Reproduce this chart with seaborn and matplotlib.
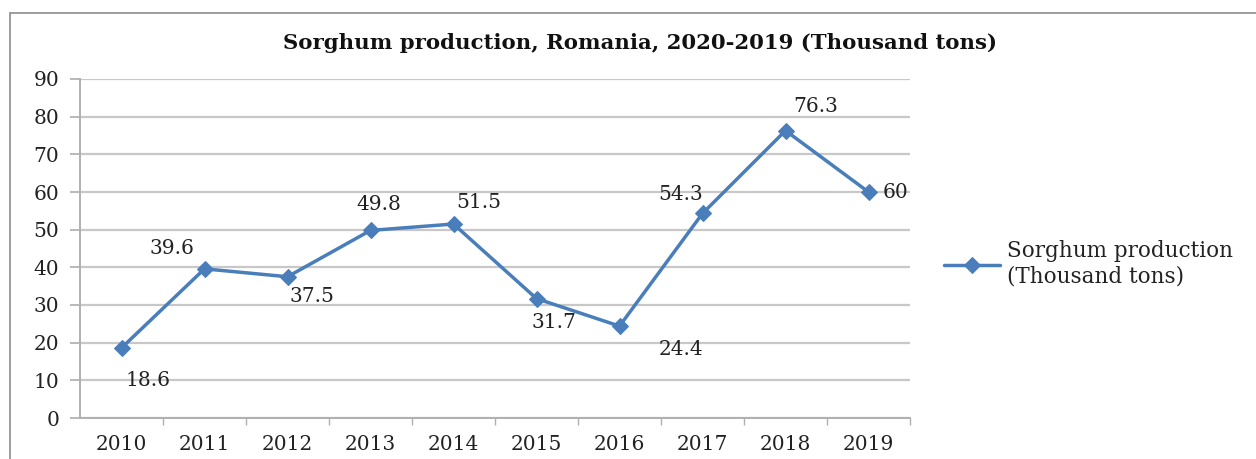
import matplotlib
matplotlib.use("Agg")
import matplotlib.pyplot as plt
import seaborn as sns
import pandas as pd
from matplotlib.patches import Rectangle

years = ["2010", "2011", "2012", "2013", "2014", "2015", "2016", "2017", "2018", "2019"]
production = [18.6, 39.6, 37.5, 49.8, 51.5, 31.7, 24.4, 54.3, 76.3, 60]
value_labels = ["18.6", "39.6", "37.5", "49.8", "51.5", "31.7", "24.4", "54.3", "76.3", "60"]
y_ticks = [0, 10, 20, 30, 40, 50, 60, 70, 80, 90]
title = "Sorghum production, Romania, 2020-2019 (Thousand tons)"
series_name = "Sorghum production\n(Thousand tons)"

sns.set_theme(style="white")
plt.rcParams['font.family'] = ['DejaVu Serif', 'Liberation Serif']

fig = plt.figure(figsize=(12.56, 4.59), dpi=100)
ax = fig.add_axes([80/1256, 1 - 418/459, 830/1256, 339/459])

# outer frame
fig.patches.append(Rectangle((10/1256, -0.05), 1.2, 1 - 13/459 + 0.05,
                             transform=fig.transFigure, fill=False,
                             edgecolor="#8c8c8c", linewidth=1.2))

df = pd.DataFrame({"year": years, "value": production, "pos": range(len(years))})
line_color = "#4A7EBB"
sns.lineplot(data=df, x="pos", y="value", ax=ax, color=line_color, linewidth=2.5,
             marker="D", markersize=8, markeredgecolor=line_color,
             label=series_name, legend=False)

tick_color = "#b0b0b0"
ax.set_xlim(-0.5, len(years) - 0.5)
ax.set_ylim(0, 90)
ax.set_yticks(y_ticks)
ax.set_yticklabels([str(t) for t in y_ticks], fontsize=14.5, color="#222222")
ax.set_xticks(range(len(years)))
ax.set_xticklabels(years, fontsize=14.5, color="#222222")
ax.set_xlabel("")
ax.set_ylabel("")
ax.yaxis.grid(True, color="#c8c8c8", linewidth=1.6)
ax.set_axisbelow(True)
for s in ["top", "right"]:
    ax.spines[s].set_visible(False)
for s in ["left", "bottom"]:
    ax.spines[s].set_color(tick_color)
    ax.spines[s].set_linewidth(1.4)
ax.tick_params(axis="y", which="both", left=True, length=7, color=tick_color, pad=8)
ax.tick_params(axis="x", which="major", bottom=False, pad=6)
ax.set_xticks([i + 0.5 for i in range(len(years))], minor=True)
ax.tick_params(axis="x", which="minor", bottom=True, length=5, color=tick_color)

offsets = [(27, -33), (-33, 20), (24, -20), (8, 26), (25, 22),
           (17, -24), (62, -23), (-22, 19), (30, 24), (14, 0)]
for i, (v, lab) in enumerate(zip(production, value_labels)):
    dx, dy = offsets[i]
    ha = "left" if i == len(production) - 1 else "center"
    ax.annotate(lab, (i, v), xytext=(dx, dy), textcoords="offset pixels",
                ha=ha, va="center", fontsize=14.5, color="#222222")

fig.text(640/1256, 1 - 43/459, title, ha="center", va="center",
         fontsize=15.3, fontweight="bold", color="#111111")

handles, labels = ax.get_legend_handles_labels()
leg = fig.legend(handles, labels, loc="center left", bbox_to_anchor=(925/1256, 1 - 264/459),
                 frameon=False, fontsize=15.5, handlelength=2.6, handletextpad=0.3)
for t in leg.get_texts():
    t.set_color("#222222")

fig.savefig("out.png", dpi=100, facecolor="white")
